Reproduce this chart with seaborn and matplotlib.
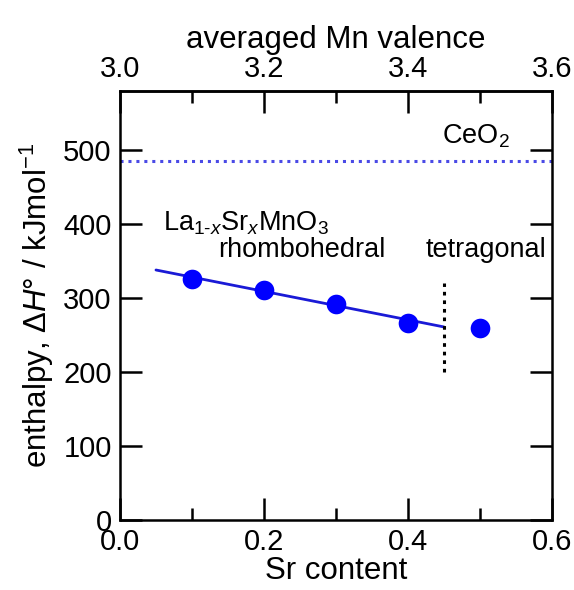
import matplotlib
matplotlib.use("Agg")
import matplotlib.pyplot as plt
import seaborn as sns
import pandas as pd
from matplotlib.ticker import MultipleLocator

# ---- data ----
sr_content = [0.1, 0.2, 0.3, 0.4, 0.5]
enthalpy = [326, 311, 292, 266, 259]
fit_x = [0.05, 0.45]
fit_y = [338, 261]
ceo2_level = 486
boundary_x = 0.45
boundary_y = [200, 320]

sns.set_theme(style="white")
plt.rcParams['font.family'] = ['Liberation Sans', 'DejaVu Sans']
plt.rcParams['text.color'] = 'black'
plt.rcParams['axes.labelcolor'] = 'black'
plt.rcParams['xtick.color'] = 'black'
plt.rcParams['ytick.color'] = 'black'
plt.rcParams['mathtext.fontset'] = 'custom'
plt.rcParams['mathtext.rm'] = 'Liberation Sans'
plt.rcParams['mathtext.it'] = 'Liberation Sans:italic'
plt.rcParams['mathtext.bf'] = 'Liberation Sans:bold'

fig = plt.figure(figsize=(5.74, 5.90), dpi=100)
ax = fig.add_axes([0.209, 0.1186, 0.7527, 0.7272])

df_pts = pd.DataFrame({"x": sr_content, "y": enthalpy})
df_fit = pd.DataFrame({"x": fit_x, "y": fit_y})

sns.lineplot(data=df_fit, x="x", y="y", ax=ax, color="#1a1ad6", linewidth=2.0)
sns.scatterplot(data=df_pts, x="x", y="y", ax=ax, color="#0000ff", s=200,
                edgecolor="#0000ff", linewidth=0, zorder=5)
ax.axhline(ceo2_level, color="#4a4ae6", linestyle=(0, (1, 1.6)), linewidth=2.2)
ax.plot([boundary_x, boundary_x], boundary_y, color="black",
        linestyle=(0, (1.2, 1.6)), linewidth=2.2)

ax.set_xlim(0, 0.6)
ax.set_ylim(0, 580)

FS = 21
LFS = 22.5
ax.set_xlabel("Sr content", fontsize=LFS, labelpad=0)
ax.set_ylabel(r"enthalpy, $\Delta H$° / kJmol$^{\mathrm{-1}}$", fontsize=LFS, labelpad=5)

ax.xaxis.set_minor_locator(MultipleLocator(0.1))
ax.set_xticks([0.0, 0.2, 0.4, 0.6])
ax.set_xticklabels(["0.0", "0.2", "0.4", "0.6"])
ax.set_yticks([0, 100, 200, 300, 400, 500])
ax.set_yticklabels(["0", "100", "200", "300", "400", "500"])

for s in ax.spines.values():
    s.set_linewidth(1.8)
    s.set_color("black")

ax.tick_params(axis="both", which="major", direction="in", length=15.5, width=1.8,
               labelsize=FS, pad=6, color="black", labelcolor="black")
ax.tick_params(axis="both", which="minor", direction="in", length=8.5, width=1.8,
               color="black")
ax.tick_params(axis="y", which="both", left=True, right=True)
ax.tick_params(axis="x", which="both", bottom=True, top=False)

sec = ax.secondary_xaxis("top", functions=(lambda x: x + 3.0, lambda v: v - 3.0))
sec.set_xticks([3.0, 3.2, 3.4, 3.6])
sec.set_xticklabels(["3.0", "3.2", "3.4", "3.6"])
sec.xaxis.set_minor_locator(MultipleLocator(0.1))
sec.tick_params(which="major", direction="in", length=15.5, width=1.8,
                labelsize=FS, pad=6, color="black", labelcolor="black")
sec.tick_params(which="minor", direction="in", length=8.5, width=1.8, color="black")
sec.set_xlabel("averaged Mn valence", fontsize=LFS, labelpad=5)
sec.spines["top"].set_linewidth(1.8)
sec.spines["top"].set_color("black")

AFS = 19.5
ax.text(0.060, 392, r"La$_{\mathrm{1\text{-}}x}$Sr$_x$MnO$_3$", fontsize=AFS)
ax.text(0.136, 355, "rhombohedral", fontsize=AFS)
ax.text(0.424, 355, "tetragonal", fontsize=AFS)
ax.text(0.447, 509, r"CeO$_2$", fontsize=AFS)

fig.savefig("out.png", dpi=100)
